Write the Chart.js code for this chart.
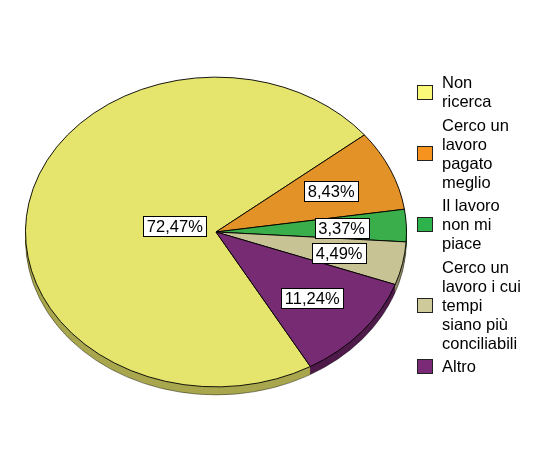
<!DOCTYPE html>
<html>
<head>
<meta charset="utf-8">
<script src="https://cdn.jsdelivr.net/npm/chart.js@4.4.1/dist/chart.umd.min.js"></script>
<style>
  html, body { margin: 0; padding: 0; background: #fff; }
  #wrap { position: relative; width: 551px; height: 464px; }
  #legend {
    position: absolute; left: 417px; top: 73px;
    font-family: "Liberation Sans", Arial, sans-serif;
    font-size: 16.5px; line-height: 19px; color: #000;
  }
  .item { display: flex; align-items: center; margin-bottom: 4.5px; }
  .box { width: 14px; height: 13px; border: 1px solid #222; margin-right: 9px; flex: none; }
</style>
</head>
<body>
<div id="wrap">
  <canvas id="pieChart" width="551" height="464"></canvas>
  <div id="legend"></div>
</div>
<script>
// answers, one entry per slice (label lines kept as drawn in the key)
const categories = [
    ['Non', 'ricerca'],
    ['Cerco un', 'lavoro', 'pagato', 'meglio'],
    ['Il lavoro', 'non mi', 'piace'],
    ['Cerco un', 'lavoro i cui', 'tempi', 'siano più', 'conciliabili'],
    ['Altro']
];
const shares = [72.47, 8.43, 3.37, 4.49, 11.24];

const faceColors = ['#E5E46C', '#E29226', '#3AAE4A', '#C8C394', '#772B72'];
const rimColors  = ['#A9A74E', '#9E6618', '#287A34', '#8E8A66', '#4E1B4A'];
const keyColors  = ['#FAF97A', '#F6931F', '#2DB24C', '#CFCA9A', '#7A2A77'];

const SQUASH = 0.813;  // vertical flattening of the disc
const RIM = 8;         // thickness of the side wall, px

const fmt = v => v.toFixed(2).replace('.', ',') + '%';

const tiltPlugin = {
    id: 'tilt',
    beforeDatasetsDraw(chart) {
        const arcs = chart.getDatasetMeta(0).data;
        const { x, y, outerRadius: r } = arcs[0];
        const ctx = chart.ctx;
        ctx.save();
        ctx.translate(x, y);
        ctx.scale(1, SQUASH);
        ctx.translate(-x, -y);
        // side wall: shifted copies of every slice in a darker shade
        for (let d = RIM; d > 0; d--) {
            arcs.forEach((arc, i) => {
                const oy = arc.y + d / SQUASH;
                ctx.beginPath();
                ctx.moveTo(arc.x, oy);
                ctx.arc(arc.x, oy, arc.outerRadius, arc.startAngle, arc.endAngle);
                ctx.closePath();
                ctx.fillStyle = rimColors[i];
                ctx.fill();
            });
        }
        ctx.beginPath();
        ctx.arc(x, y + RIM / SQUASH, r, 0, Math.PI);
        ctx.strokeStyle = 'rgba(0,0,0,0.45)';
        ctx.lineWidth = 1;
        ctx.stroke();
    },
    afterDatasetsDraw(chart) {
        const ctx = chart.ctx;
        ctx.restore();
        // value boxes
        const arcs = chart.getDatasetMeta(0).data;
        ctx.save();
        ctx.font = '16.5px "Liberation Sans", Arial, sans-serif';
        ctx.textAlign = 'center';
        ctx.textBaseline = 'middle';
        arcs.forEach((arc, i) => {
            const mid = (arc.startAngle + arc.endAngle) / 2;
            const frac = shares[i] > 50 ? 0.22 : 0.66;
            const lx = arc.x + Math.cos(mid) * arc.outerRadius * frac;
            const ly = arc.y + Math.sin(mid) * arc.outerRadius * frac * SQUASH;
            const text = fmt(shares[i]);
            const w = Math.round(ctx.measureText(text).width + 7);
            const h = 20;
            const left = Math.round(lx - w / 2) + 0.5;
            const top = Math.round(ly - h / 2) + 0.5;
            ctx.fillStyle = '#fff';
            ctx.fillRect(left, top, w, h);
            ctx.strokeStyle = '#000';
            ctx.lineWidth = 1;
            ctx.strokeRect(left, top, w, h);
            ctx.fillStyle = '#000';
            ctx.fillText(text, lx, top + h / 2 + 1);
        });
        ctx.restore();
    }
};

new Chart(document.getElementById('pieChart'), {
    type: 'pie',
    data: {
        labels: categories.map(c => c.join(' ')),
        datasets: [{
            data: shares,
            backgroundColor: faceColors,
            borderColor: '#000',
            borderWidth: 1
        }]
    },
    options: {
        responsive: false,
        animation: false,
        rotation: 150.3,
        layout: { padding: { left: 25, right: 144, top: 41, bottom: 41 } },
        plugins: {
            legend: { display: false },
            tooltip: { enabled: false }
        }
    },
    plugins: [tiltPlugin]
});

// key on the right
const legend = document.getElementById('legend');
categories.forEach((lines, i) => {
    const item = document.createElement('div');
    item.className = 'item';
    const box = document.createElement('span');
    box.className = 'box';
    box.style.background = keyColors[i];
    const label = document.createElement('span');
    label.innerHTML = lines.join('<br>');
    item.appendChild(box);
    item.appendChild(label);
    legend.appendChild(item);
});
</script>
</body>
</html>
